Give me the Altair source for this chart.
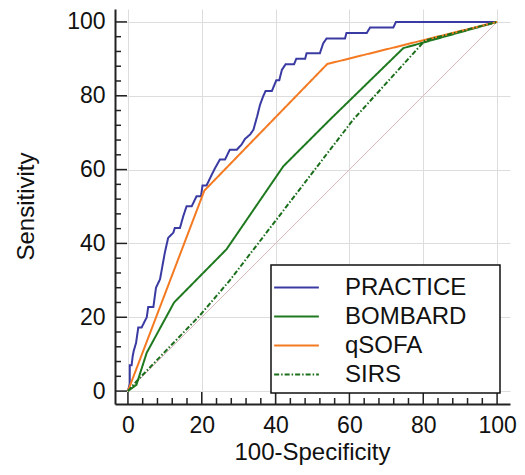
import altair as alt
import pandas as pd

# ---- data ----
series_names = ["PRACTICE", "BOMBARD", "qSOFA", "SIRS"]
series_colors = ["#3a3aa3", "#1f7a1f", "#f47a22", "#1b6e1b"]

practice_x = [0, 0.5, 0.5, 1, 1.3, 1.6, 2.2, 2.8, 3.7, 5.1, 5.5, 6.9, 7.6, 8.7, 10, 10.9, 12.3, 12.7,
              14.1, 15, 15.9, 17.3, 18.6, 19.8, 20.2, 21.3, 22.7, 23.6, 24.9, 26.3, 27.6, 29.5, 30.8,
              31.7, 33.1, 34, 35, 35.8, 36.7, 37.3, 39, 40.2, 41, 41.7, 42.7, 45, 45.6, 48, 48.4, 52,
              52.9, 53.8, 58.8, 59.2, 64.7, 65.6, 71.9, 72.6, 100]
practice_y = [0, 2, 7, 7, 9.5, 11, 13, 17.2, 17.2, 20, 22.8, 22.8, 28, 30.3, 37.5, 41.5, 42.9, 44.2,
              44.2, 47.4, 50.1, 50.1, 52.8, 52.8, 55.7, 55.7, 58.6, 60.4, 62.7, 62.7, 65.4, 65.4, 66.8,
              68.3, 69.5, 70.8, 74.4, 77.6, 80, 81.3, 81.3, 84.2, 84.2, 87, 88.5, 88.5, 90, 90, 91.5, 91.5,
              94.2, 95.5, 95.5, 97, 97, 98.5, 98.5, 100, 100]

bombard_x = [0, 2.3, 5.1, 12.5, 26.7, 42.1, 54.7, 74.6, 100]
bombard_y = [0, 1.7, 10.4, 24, 38.4, 60.9, 73.5, 92.9, 100]

qsofa_x = [0, 20.7, 54, 100]
qsofa_y = [0, 54.3, 88.6, 100]

sirs_x = [0, 2, 19.5, 27.6, 61, 80.5, 100]
sirs_y = [0, 2.3, 20.5, 30, 73.5, 95, 100]

diag_x = [0, 100]
diag_y = [0, 100]

major_ticks = [0, 20, 40, 60, 80, 100]
minor_ticks = [4, 8, 12, 16, 24, 28, 32, 36, 44, 48, 52, 56, 64, 68, 72, 76, 84, 88, 92, 96]

# ---- tables ----
rows = []
for name, xs, ys in [("PRACTICE", practice_x, practice_y), ("BOMBARD", bombard_x, bombard_y),
                     ("qSOFA", qsofa_x, qsofa_y), ("SIRS", sirs_x, sirs_y)]:
    for i, (a, b) in enumerate(zip(xs, ys)):
        rows.append({"series": name, "x": a, "y": b, "i": i})
curves = pd.DataFrame(rows)
diag = pd.DataFrame({"x": diag_x, "y": diag_y, "i": [0, 1]})
majors = pd.DataFrame({"t": major_ticks})
minors = pd.DataFrame({"t": minor_ticks})

W, H = 395, 395
dom = [-3.5, 103.5]
FONT = "Liberation Sans"

xscale = alt.Scale(domain=dom, nice=False, zero=False)
yscale = alt.Scale(domain=dom, nice=False, zero=False)

xaxis = alt.Axis(values=major_ticks, ticks=False, domainWidth=2, domainColor="#222222",
                 grid=True, gridColor="#dddddd", gridWidth=1, labelFontSize=23, labelFont=FONT,
                 labelColor="#111111", labelPadding=10, title="100-Specificity", titleFont=FONT,
                 titleFontSize=24, titleFontWeight="normal", titleColor="#111111",
                 titleX=197, titleY=55, titleBaseline="alphabetic", titleAlign="center",
                 labelFlush=False, labelOverlap=False)
yaxis = alt.Axis(values=major_ticks, ticks=False, domainWidth=2, domainColor="#222222",
                 grid=True, gridColor="#dddddd", gridWidth=1, labelFontSize=23, labelFont=FONT,
                 labelColor="#111111", labelPadding=10, title="Sensitivity", titleFont=FONT,
                 titleFontSize=24, titleFontWeight="normal", titleColor="#111111",
                 titleX=-82, titleY=197, titleAngle=270, titleBaseline="alphabetic",
                 titleAlign="center", labelFlush=False, labelOverlap=False)

base_axes = alt.Chart(diag).mark_line(color="#d9baba", strokeWidth=1).encode(
    x=alt.X("x:Q", scale=xscale, axis=xaxis),
    y=alt.Y("y:Q", scale=yscale, axis=yaxis),
    order="i:O",
)

leg = alt.Legend(title=None)
lines = alt.Chart(curves).mark_line(strokeWidth=2).encode(
    x=alt.X("x:Q", scale=xscale),
    y=alt.Y("y:Q", scale=yscale),
    order="i:O",
    color=alt.Color("series:N", scale=alt.Scale(domain=series_names, range=series_colors),
                    sort=series_names, legend=leg),
    strokeDash=alt.StrokeDash("series:N", scale=alt.Scale(domain=series_names,
                              range=[[1, 0], [1, 0], [1, 0], [5, 2, 1.5, 2]]),
                              sort=series_names, legend=leg),
    detail="series:N",
)

tick_color = "#222222"
x_major = alt.Chart(majors).mark_rule(color=tick_color, strokeWidth=1.5).encode(
    x=alt.X("t:Q", scale=xscale), y=alt.value(H), y2=alt.value(H - 12))
x_minor = alt.Chart(minors).mark_rule(color=tick_color, strokeWidth=1.5).encode(
    x=alt.X("t:Q", scale=xscale), y=alt.value(H), y2=alt.value(H - 6))
y_major = alt.Chart(majors).mark_rule(color=tick_color, strokeWidth=1.5).encode(
    y=alt.Y("t:Q", scale=yscale), x=alt.value(0), x2=alt.value(12))
y_minor = alt.Chart(minors).mark_rule(color=tick_color, strokeWidth=1.5).encode(
    y=alt.Y("t:Q", scale=yscale), x=alt.value(0), x2=alt.value(6))

# legend frame (white box with dark border behind the legend entries)
legend_box = alt.Chart(majors.head(1)).mark_rect(
    fill="white", stroke="#111111", strokeWidth=1.5
).encode(x=alt.value(156), x2=alt.value(385), y=alt.value(256), y2=alt.value(384))

chart = alt.layer(base_axes, x_major, x_minor, y_major, y_minor, lines, legend_box).properties(
    width=W, height=H,
    autosize=alt.AutoSizeParams(type="none"),
    padding={"left": 107, "top": 1, "right": 7, "bottom": 62},
).configure_view(stroke=None).configure_legend(
    orient="none", legendX=156, legendY=256, padding=10,
    symbolType="M-2,0H2", symbolSize=500, symbolStrokeWidth=2, symbolOffset=3,
    labelFontSize=24, labelFont=FONT, labelColor="#111111", labelOffset=36,
    rowPadding=4,
)

chart.save("out.html", embed_options={"renderer": "svg", "actions": False})
